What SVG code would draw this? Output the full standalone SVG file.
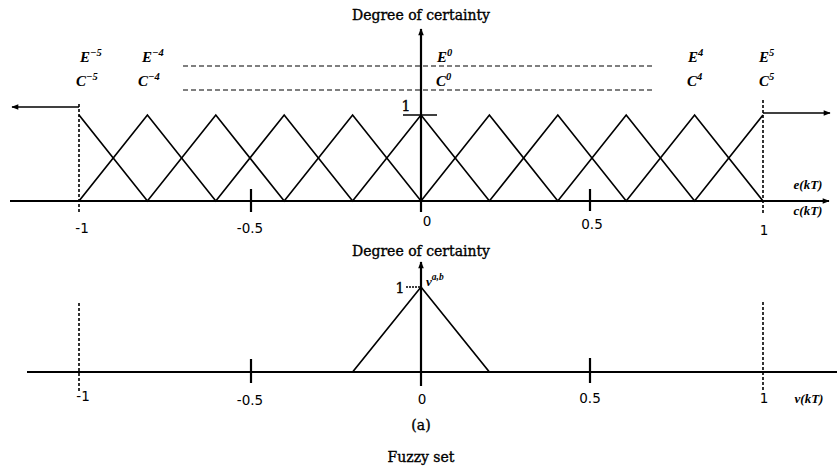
<svg xmlns="http://www.w3.org/2000/svg" width="837" height="469" viewBox="0 0 837 469">
<style>
.ln{stroke:#000;stroke-width:1.7;fill:none}
.ax{stroke:#000;stroke-width:2.2;fill:none}
.dash{stroke:#000;stroke-width:1.2;stroke-dasharray:5,3;fill:none}
.vd{stroke:#000;stroke-width:1.6;stroke-dasharray:3,2;fill:none}
.title{font-family:"DejaVu Serif","Liberation Serif",serif;font-size:14px;fill:#000;stroke:#000;stroke-width:0.35;text-anchor:middle}
.num{font-family:"DejaVu Sans","Liberation Sans",sans-serif;font-size:13.5px;fill:#000;text-anchor:middle}
.set{font-family:"Liberation Serif",serif;font-style:italic;font-weight:bold;font-size:15px;fill:#000}
.sup{font-size:10.5px}
.var{font-family:"Liberation Serif",serif;font-style:italic;font-weight:bold;font-size:13px;fill:#000}
</style>
<defs>
<marker id="ah" viewBox="0 0 10 10" refX="9" refY="5" markerWidth="8" markerHeight="7" orient="auto-start-reverse" markerUnits="userSpaceOnUse">
<path d="M0,1 L10,5 L0,9 Z" fill="#000"/>
</marker>
</defs>
<rect width="837" height="469" fill="#fff"/>

<g id="top-chart">
<text class="title" x="421" y="20">Degree of certainty</text>
<line class="ax" x1="421" y1="212" x2="421" y2="29" marker-end="url(#ah)"/>
<line class="ax" x1="10" y1="201" x2="829" y2="201" marker-end="url(#ah)"/>
<line class="dash" x1="183" y1="66" x2="655" y2="66"/>
<line class="dash" x1="183" y1="90" x2="655" y2="90"/>
<line class="vd" x1="79" y1="104" x2="79" y2="213"/>
<line class="vd" x1="763" y1="100" x2="763" y2="215"/>
<line class="ln" x1="79" y1="107" x2="12" y2="107" marker-end="url(#ah)"/>
<line class="ln" x1="763" y1="113" x2="830" y2="113" marker-end="url(#ah)"/>
<polyline class="ln" points="79,115 147.4,201 215.8,115 284.2,201 352.6,115 421,201 489.4,115 557.8,201 626.2,115 694.6,201 763,115"/>
<polyline class="ln" points="79,201 147.4,115 215.8,201 284.2,115 352.6,201 421,115 489.4,201 557.8,115 626.2,201 694.6,115 763,201"/>
<line class="ln" x1="403" y1="115" x2="437" y2="115"/>
<line class="ax" x1="251" y1="189" x2="251" y2="212"/>
<line class="ax" x1="590" y1="189" x2="590" y2="211"/>
<text class="title" x="406" y="111">1</text>
<text class="set" x="80" y="62">E<tspan class="sup" dy="-6">−5</tspan></text>
<text class="set" x="76" y="86">C<tspan class="sup" dy="-6">−5</tspan></text>
<text class="set" x="142" y="62">E<tspan class="sup" dy="-6">−4</tspan></text>
<text class="set" x="138" y="86">C<tspan class="sup" dy="-6">−4</tspan></text>
<text class="set" x="437" y="62">E<tspan class="sup" dy="-6">0</tspan></text>
<text class="set" x="436" y="86">C<tspan class="sup" dy="-6">0</tspan></text>
<text class="set" x="688" y="62">E<tspan class="sup" dy="-6">4</tspan></text>
<text class="set" x="687" y="86">C<tspan class="sup" dy="-6">4</tspan></text>
<text class="set" x="759" y="62">E<tspan class="sup" dy="-6">5</tspan></text>
<text class="set" x="759" y="86">C<tspan class="sup" dy="-6">5</tspan></text>
<text class="num" x="82" y="233">-1</text>
<text class="num" x="250" y="233">-0.5</text>
<text class="num" x="427" y="226">0</text>
<text class="num" x="592" y="229">0.5</text>
<text class="num" x="764" y="235">1</text>
<text class="var" x="808" y="189" text-anchor="middle">e(kT)</text>
<text class="var" x="808" y="215" text-anchor="middle">c(kT)</text>
</g>

<g id="bottom-chart">
<text class="title" x="421" y="256">Degree of certainty</text>
<line class="ax" x1="421" y1="386" x2="421" y2="262" marker-end="url(#ah)"/>
<line class="ax" x1="27" y1="372" x2="837" y2="372"/>
<line class="vd" x1="79" y1="303" x2="79" y2="392"/>
<line class="vd" x1="763" y1="302" x2="763" y2="390"/>
<polyline class="ln" points="352.6,372 421,287 489.4,372"/>
<line class="ln" x1="406" y1="287" x2="421" y2="287" stroke-dasharray="2,1"/>
<line class="ax" x1="251" y1="359" x2="251" y2="383"/>
<line class="ax" x1="590" y1="358" x2="590" y2="383"/>
<text class="title" x="400" y="293">1</text>
<text class="var" x="426" y="286">ν<tspan font-size="9.5" dy="-6">a,b</tspan></text>
<text class="num" x="83" y="401">-1</text>
<text class="num" x="250" y="405">-0.5</text>
<text class="num" x="422" y="404">0</text>
<text class="num" x="590" y="403">0.5</text>
<text class="num" x="764" y="403">1</text>
<text class="var" x="809" y="403" text-anchor="middle">ν(kT)</text>
<text class="title" x="421" y="430">(a)</text>
<text class="title" x="421" y="462">Fuzzy set</text>
</g>
</svg>
